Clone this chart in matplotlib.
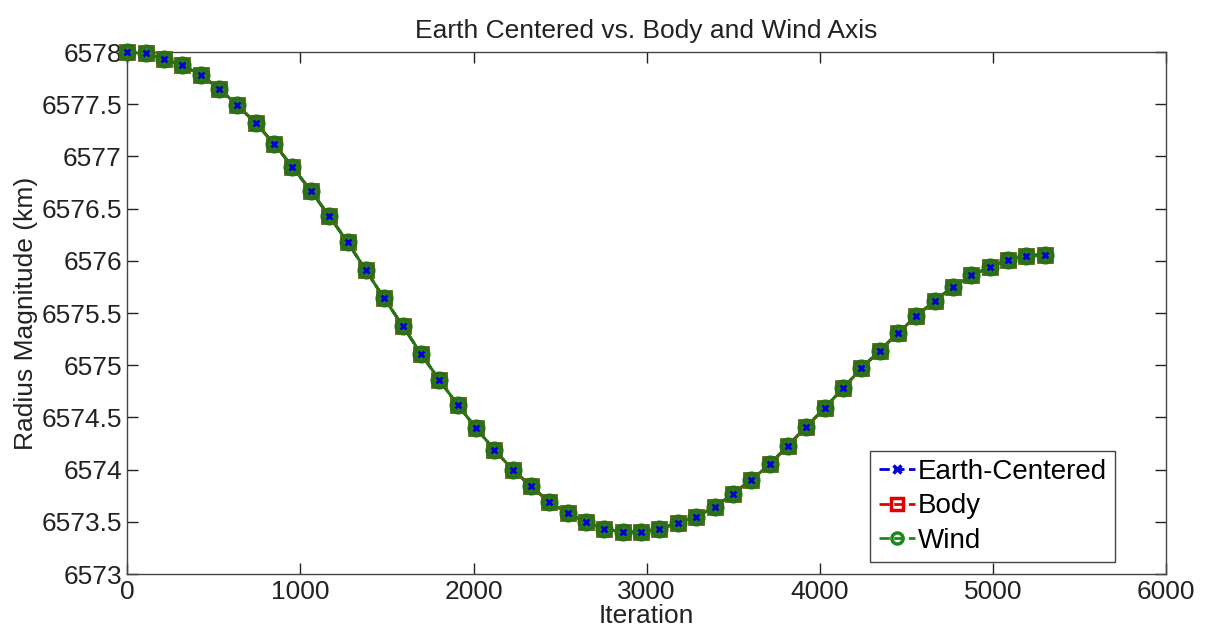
import numpy as np
import matplotlib
matplotlib.use("Agg")
import matplotlib.pyplot as plt
from matplotlib.ticker import FormatStrFormatter

plt.rcParams['font.family'] = ['Liberation Sans', 'DejaVu Sans']

# iteration sample points (every 106 iterations)
iteration = np.arange(0, 5301, 106)

# radius magnitude in km, same for all three frames
radius = [
    6578.00, 6577.99, 6577.93, 6577.875, 6577.78, 6577.65, 6577.49, 6577.32,
    6577.12, 6576.90, 6576.67, 6576.43, 6576.18, 6575.91, 6575.64, 6575.38,
    6575.11, 6574.86, 6574.62, 6574.40, 6574.19, 6574.00, 6573.84, 6573.69,
    6573.58, 6573.50, 6573.43, 6573.405, 6573.405, 6573.43, 6573.49, 6573.55,
    6573.64, 6573.77, 6573.90, 6574.05, 6574.23, 6574.41, 6574.59, 6574.78,
    6574.97, 6575.14, 6575.31, 6575.47, 6575.62, 6575.75, 6575.86, 6575.94,
    6576.01, 6576.05, 6576.06,
]
earth_centered = radius
body = radius
wind = radius

fig = plt.figure(figsize=(12.08, 6.35), dpi=100)
ax = fig.add_axes([0.1054, 0.096, 0.8598, 0.822])

# lines (all three overlap, wind ends up on top)
ax.plot(iteration, earth_centered, '--', color='#0000d0', lw=2, zorder=2)
ax.plot(iteration, body, '--', color='#e00000', lw=2, zorder=2)
ax.plot(iteration, wind, '-', color='#1f7a14', lw=2.2, zorder=2)

# markers
ax.plot(iteration, body, linestyle='none', marker='s', ms=9.5, mew=2,
        mfc='#2f6a1a', mec='#5a6414', zorder=3, clip_on=False)
ax.plot(iteration, wind, linestyle='none', marker='o', ms=10.5, mew=2.5,
        mfc='#2f7a1c', mec='#2a7016', zorder=4, clip_on=False)
ax.plot(iteration, earth_centered, linestyle='none', color='#0000d0',
        marker='x', ms=5, mew=2, zorder=5, clip_on=False)

ax.set_xlim(0, 6000)
ax.set_ylim(6573, 6578)
ax.set_xticks(np.arange(0, 6001, 1000))
ax.set_yticks(np.arange(6573, 6578.01, 0.5))
ax.yaxis.set_major_formatter(FormatStrFormatter('%g'))
ax.tick_params(direction='in', length=8, width=1, top=True, right=True,
               labelsize=19, colors='#222222', pad=4)
for s in ax.spines.values():
    s.set_color('#444444')
    s.set_linewidth(1)

ax.set_title('Earth Centered vs. Body and Wind Axis', fontsize=19, pad=10,
             color='#222222')
ax.set_xlabel('Iteration', fontsize=19, labelpad=0, color='#222222')
ax.set_ylabel('Radius Magnitude (km)', fontsize=19, labelpad=2, color='#222222')

# legend handles styled like the individual series
h1, = ax.plot([], [], '--', color='#0000d0', lw=2, marker='x', ms=7, mew=2.5,
              label='Earth-Centered')
h2, = ax.plot([], [], '--', color='#e00000', lw=2, marker='s', ms=10, mew=2.5,
              mfc='none', label='Body')
h3, = ax.plot([], [], '--', color='#1a8a1a', lw=2, marker='o', ms=10, mew=2.5,
              mfc='none', label='Wind')
leg = ax.legend(handles=[h1, h2, h3], loc='lower right',
                bbox_to_anchor=(0.951, 0.023), fontsize=20, handlelength=1.3,
                handletextpad=0.1, labelspacing=0.3, borderpad=0.3,
                borderaxespad=0, fancybox=False, framealpha=1,
                edgecolor='#444444', markerscale=0.8)
leg.get_frame().set_linewidth(1)

fig.savefig('out.png', dpi=100)
